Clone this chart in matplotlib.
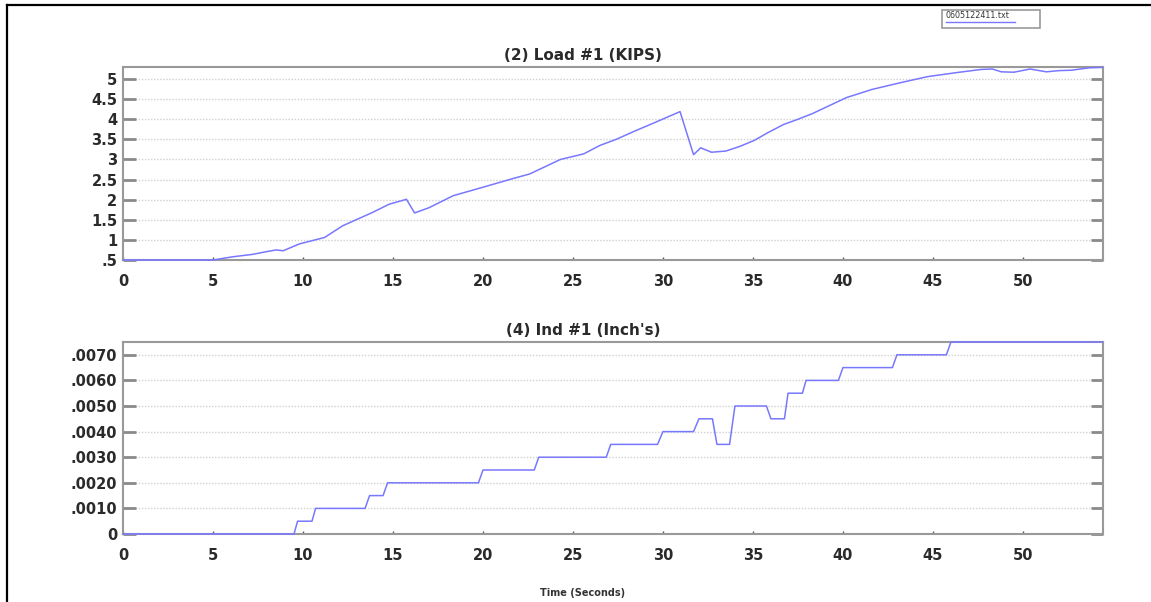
import matplotlib
matplotlib.use("Agg")
import matplotlib.pyplot as plt
from matplotlib.lines import Line2D
from matplotlib.patches import Rectangle

plt.rcParams['font.family'] = ['DejaVu Sans']

# load channel, kips vs seconds
load_t = [0, 4.5, 5.0, 6.1, 7.2, 8.0, 8.5, 8.9, 9.8, 11.2, 12.2, 13.85, 14.8, 15.75,
          16.2, 17.0, 18.35, 20.0, 21.7, 22.6, 24.3, 25.6, 26.5, 27.4, 28.4, 29.45,
          30.95, 31.7, 32.1, 32.7, 33.5, 34.3, 35.1, 35.8, 36.7, 37.5, 38.3, 39.2,
          40.2, 41.6, 43.2, 44.7, 46.3, 47.7, 48.3, 48.8, 49.5, 50.4, 51.3, 52.0,
          52.7, 53.7, 54.4]
load_v = [0.5, 0.5, 0.5, 0.58, 0.64, 0.71, 0.75, 0.73, 0.9, 1.06, 1.35, 1.68, 1.89, 2.01,
          1.67, 1.8, 2.1, 2.31, 2.53, 2.64, 3.0, 3.14, 3.35, 3.5, 3.7, 3.9,
          4.19, 3.12, 3.29, 3.18, 3.21, 3.33, 3.48, 3.66, 3.87, 4.0, 4.14, 4.33,
          4.54, 4.74, 4.91, 5.06, 5.16, 5.24, 5.25, 5.18, 5.17, 5.25, 5.18, 5.21,
          5.22, 5.28, 5.29]

# indicator channel, inches vs seconds
ind_t = [0, 9.5, 9.7, 10.5, 10.7, 13.45, 13.7, 14.45, 14.7, 19.75, 20.0, 22.85, 23.1,
         26.85, 27.1, 29.7, 30.0, 31.7, 32.0, 32.75, 33.0, 33.7, 34.0, 35.75, 36.0,
         36.75, 36.95, 37.75, 37.95, 39.75, 40.0, 42.75, 43.0, 45.75, 46.0, 54.4]
ind_v = [0, 0, .0005, .0005, .001, .001, .0015, .0015, .002, .002, .0025, .0025, .003,
         .003, .0035, .0035, .004, .004, .0045, .0045, .0035, .0035, .005, .005, .0045,
         .0045, .0055, .0055, .006, .006, .0065, .0065, .007, .007, .0075, .0075]

x_ticks = [0, 5, 10, 15, 20, 25, 30, 35, 40, 45, 50]
load_ticks = [0.5, 1, 1.5, 2, 2.5, 3, 3.5, 4, 4.5, 5]
load_labels = ['.5', '1', '1.5', '2', '2.5', '3', '3.5', '4', '4.5', '5']
ind_ticks = [0, .001, .002, .003, .004, .005, .006, .007]
ind_labels = ['0', '.0010', '.0020', '.0030', '.0040', '.0050', '.0060', '.0070']

line_col = '#7878ff'
txt_col = '#2a2a2a'
W, H = 1151, 602

fig = plt.figure(figsize=(W / 100, H / 100), dpi=100)


def px_axes(left, top, right, bottom):
    return fig.add_axes([left / W, 1 - bottom / H, (right - left) / W, (bottom - top) / H])


def style(ax, title, yticks, ylabels):
    ax.set_xlim(0, 54.45)
    ax.set_xticks(x_ticks)
    ax.set_yticks(yticks)
    ax.set_yticklabels(ylabels)
    for s in ax.spines.values():
        s.set_color('#999999')
        s.set_linewidth(1.5)
    ax.tick_params(axis='y', direction='in', length=9, width=2, color='#8a8a8a',
                   left=True, right=True, labelsize=10.5, labelcolor=txt_col, pad=4)
    ax.tick_params(axis='x', direction='in', length=2.5, width=1, color='#555555',
                   labelsize=10.5, labelcolor=txt_col, pad=10)
    for lab in ax.get_xticklabels() + ax.get_yticklabels():
        lab.set_fontweight('bold')
    ax.yaxis.grid(True, linestyle=(0, (1, 1.2)), color='#d0d0d0', linewidth=1)
    ax.set_axisbelow(True)
    # titles sit a bit left of the axes centre in the original
    ax.set_title(title, fontsize=11, color=txt_col, pad=5, fontweight='bold',
                 x=(583 - 123) / 980)


ax1 = px_axes(123, 67, 1103, 260)
ax1.plot(load_t, load_v, color=line_col, linewidth=1.1, clip_on=False, zorder=3)
ax1.set_ylim(0.5, 5.3)
style(ax1, '(2) Load #1 (KIPS)', load_ticks, load_labels)

ax2 = px_axes(123, 342, 1103, 534)
ax2.plot(ind_t, ind_v, color=line_col, linewidth=1.1, clip_on=False, zorder=3)
ax2.set_ylim(0, 0.0075)
style(ax2, "(4) Ind #1 (Inch's)", ind_ticks, ind_labels)

fig.text(583 / W, 1 - 593 / H, 'Time (Seconds)', ha='center', va='center',
         fontsize=7, color='#333333', fontweight='bold')

# outer frame (left and top edges only)
fig.add_artist(Line2D([7 / W, 7 / W], [0, 1 - 5 / H], color='black', linewidth=1.6))
fig.add_artist(Line2D([7 / W, 1], [1 - 5 / H, 1 - 5 / H], color='black', linewidth=1.6))

# file legend box
fig.add_artist(Rectangle((942 / W, 1 - 28 / H), 98 / W, 18 / H, facecolor='white',
                         edgecolor='#999999', linewidth=1.2))
fig.text(946 / W, 1 - 16 / H, '0605122411.txt', ha='left', va='center', fontsize=5.8,
         color='#333333')
fig.add_artist(Line2D([946 / W, 1015 / W], [1 - 22 / H, 1 - 22 / H], color=line_col,
                      linewidth=1))

fig.savefig('out.png', dpi=100)
